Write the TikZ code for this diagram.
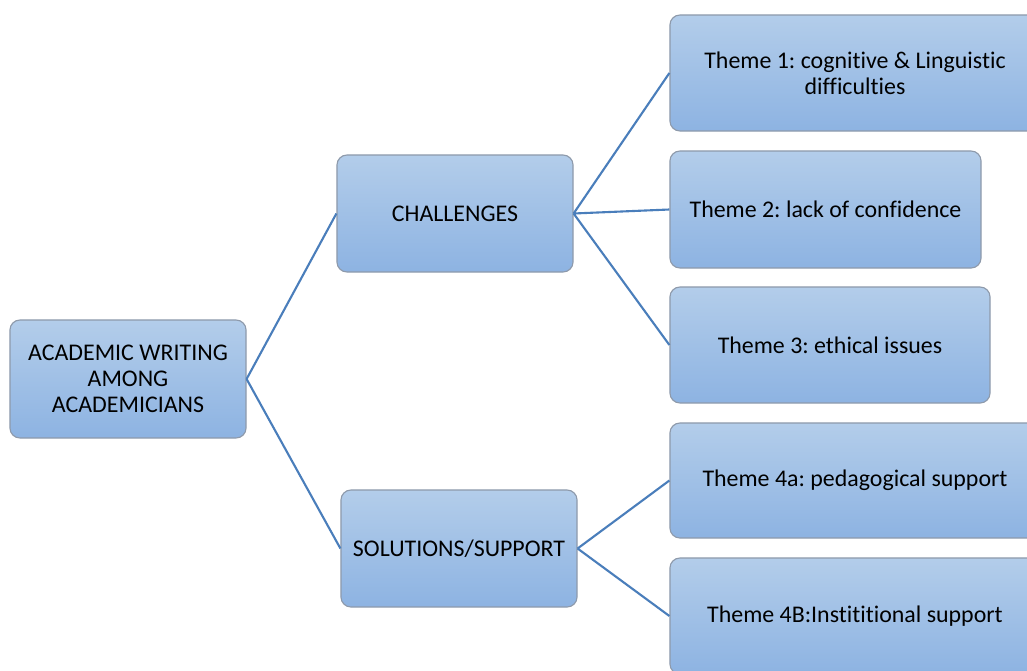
\documentclass[tikz,border=0pt]{standalone}
\usepackage{fontspec}
\setmainfont{Carlito}[Ligatures=NoCommon]
\usepackage{tikz}
\frenchspacing

\definecolor{boxtop}{HTML}{B3CDEA}
\definecolor{boxbottom}{HTML}{8DB3E2}
\definecolor{boxline}{HTML}{8E9AAB}
\definecolor{linkblue}{HTML}{4A7EBB}

\begin{document}
\begin{tikzpicture}[x=0.025cm,y=-0.025cm]
    % `topic' is used for every rounded box.
    % `link' is used for the straight connectors between boxes.
    \tikzstyle{topic} = [draw=boxline,line width=0.8pt,top color=boxtop,bottom color=boxbottom,
                         rounded corners=2.5mm,inner sep=0pt,align=center,font=\fontsize{17}{18.5}\selectfont]
    \tikzstyle{link} = [draw=linkblue,line width=1.5pt]
    %
    \useasboundingbox (0,0) rectangle (1027,671);
    \clip (0,0) rectangle (1027,671);
    % Root and the two branches.
    \node[topic,minimum width=5.9cm,minimum height=2.95cm] (root) at (128,379)
        {ACADEMIC WRITING\\AMONG\\ACADEMICIANS};
    \node[topic,minimum width=5.9cm,minimum height=2.925cm] (chal) at (455,213.5) {CHALLENGES};
    \node[topic,minimum width=5.9cm,minimum height=2.925cm] (sol) at (459,548.5) {SOLUTIONS/SUPPORT};
    % Themes.
    \node[topic,minimum width=9.25cm,minimum height=2.9cm] (t1) at (855,73)
        {Theme 1: cognitive \& Linguistic\\difficulties};
    \node[topic,minimum width=7.775cm,minimum height=2.925cm] (t2) at (825.5,209.5) {Theme 2: lack of confidence};
    \node[topic,minimum width=8cm,minimum height=2.9cm] (t3) at (830,345) {Theme 3: ethical issues};
    \node[topic,minimum width=9.25cm,minimum height=2.875cm] (t4a) at (855,480.5) {Theme 4a: pedagogical support};
    \node[topic,minimum width=9.25cm,minimum height=2.9cm] (t4b) at (855,616) {Theme 4B:Instititional support};
    % Draw connectors.
    \draw[link] (root.east) -- (chal.west)   (root.east) -- (sol.west);
    \draw[link] (chal.east) -- (t1.west)   (chal.east) -- (t2.west)   (chal.east) -- (t3.west);
    \draw[link] (sol.east) -- (t4a.west)   (sol.east) -- (t4b.west);
\end{tikzpicture}
\end{document}
